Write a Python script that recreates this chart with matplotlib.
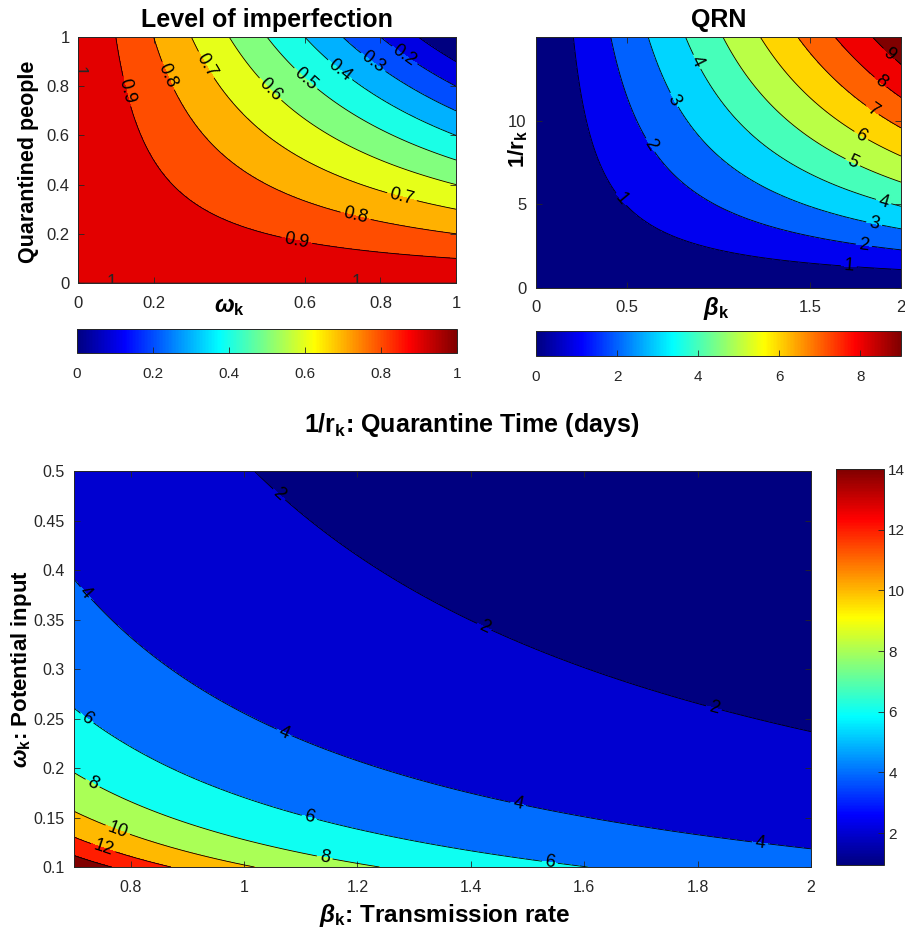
import numpy as np
import matplotlib
matplotlib.use("Agg")
import matplotlib.pyplot as plt
from matplotlib.cm import ScalarMappable
from matplotlib.colors import LinearSegmentedColormap, Normalize

plt.rcParams["font.family"] = ["Liberation Sans", "DejaVu Sans"]
plt.rcParams["mathtext.fontset"] = "custom"
plt.rcParams["mathtext.rm"] = "Liberation Sans"
plt.rcParams["mathtext.it"] = "Liberation Sans:italic"
plt.rcParams["mathtext.bf"] = "Liberation Sans:bold"
plt.rcParams["mathtext.bfit"] = "Liberation Sans:italic:bold"

# --- level of imperfection: 1 - omega * quarantined share
omega_axis = np.linspace(0.0, 1.0, 201)
quarantined_axis = np.linspace(0.0, 1.0, 201)
imperfection_levels = [0.1, 0.2, 0.3, 0.4, 0.5, 0.6, 0.7, 0.8, 0.9]
imperfection_top = 1.0
imperfection_ticks = [0, 0.2, 0.4, 0.6, 0.8, 1]

# --- QRN over transmission rate and quarantine time
beta_axis = np.linspace(0.0, 2.0, 201)
days_axis = np.linspace(0.0, 15.0, 301)
qrn_gain = 0.468
qrn_saturation = 0.0292
qrn_levels = [1, 2, 3, 4, 5, 6, 7, 8, 9]
qrn_top = 9.0
qrn_ticks = [0, 2, 4, 6, 8]

# --- quarantine time over transmission rate and potential input
beta_range = np.linspace(0.7, 2.0, 261)
omega_range = np.linspace(0.1, 0.5, 201)
time_scale = 0.883
beta_offset = 0.135
time_levels = [2, 4, 6, 8, 10, 12, 14]
time_top = 14.0
time_ticks = [2, 4, 6, 8, 10, 12, 14]

# where the contour labels sit (data coordinates)
imperfection_label_pos = [(0.13, 0.78), (0.235, 0.84), (0.337, 0.885), (0.504, 0.78),
                          (0.596, 0.82), (0.689, 0.858), (0.777, 0.89), (0.861, 0.92),
                          (0.856, 0.345), (0.733, 0.264), (0.579, 0.173)]
edge_label_pos = [(0.088, 0.0), (0.736, 0.0), (0.0, 0.862)]
qrn_label_pos = [(0.46, 5.25), (0.616, 8.47), (0.748, 11.19), (0.874, 13.47),
                 (1.924, 13.86), (1.878, 12.18), (1.841, 10.6), (1.777, 9.01),
                 (1.732, 7.43), (1.902, 5.05), (1.851, 3.76), (1.796, 2.47), (1.714, 1.28)]
time_label_pos = [(1.063, 0.477), (0.723, 0.378), (0.725, 0.252), (1.070, 0.235),
                  (0.734, 0.186), (1.115, 0.1495), (0.778, 0.139), (0.752, 0.120),
                  (1.142, 0.109), (1.422, 0.341), (1.828, 0.259), (1.483, 0.163),
                  (1.910, 0.1236), (1.539, 0.104)]

# MATLAB-style jet
JET = LinearSegmentedColormap("mjet", {
    "red": [(0, 0, 0), (3 / 8, 0, 0), (5 / 8, 1, 1), (7 / 8, 1, 1), (1, 0.5, 0.5)],
    "green": [(0, 0, 0), (1 / 8, 0, 0), (3 / 8, 1, 1), (5 / 8, 1, 1), (7 / 8, 0, 0), (1, 0, 0)],
    "blue": [(0, 0.5, 0.5), (1 / 8, 1, 1), (3 / 8, 1, 1), (5 / 8, 0, 0), (1, 0, 0)],
}, N=256)

AX_COLOR = "#262626"
LABEL_SIZE = 13


def filled_contour(ax, x, y, z, levels, top):
    """Fill bands MATLAB-style: each band takes the colour of its lower level."""
    lo, hi = float(z.min()), float(z.max())
    norm = Normalize(lo, top)
    bounds = [lo] + [v for v in levels if lo < v < hi] + [hi + 1e-9]
    colors = [JET(norm(b)) for b in bounds[:-1]]
    ax.contourf(x, y, z, levels=bounds, colors=colors)
    lines = ax.contour(x, y, z, levels=levels, colors="k", linewidths=0.6)
    return lines, norm


def style_axes(ax, labelsize):
    ax.tick_params(direction="in", top=True, right=True, length=4, width=0.6,
                   colors=AX_COLOR, labelsize=labelsize)
    for sp in ax.spines.values():
        sp.set_color(AX_COLOR)
        sp.set_linewidth(0.7)


def add_colorbar(fig, cax, norm, ticks, orientation, fmt=None):
    sm = ScalarMappable(norm=norm, cmap=JET)
    cb = fig.colorbar(sm, cax=cax, orientation=orientation, ticks=ticks)
    cb.outline.set_edgecolor(AX_COLOR)
    cb.outline.set_linewidth(0.7)
    cax.tick_params(direction="in", length=4, width=0.6, colors=AX_COLOR, labelsize=11)
    if fmt is not None:
        cb.set_ticklabels([fmt(t) for t in ticks])
    return cb


W, H = 905, 938
fig = plt.figure(figsize=(W / 100, H / 100), dpi=100)


def px_axes(left, top, right, bottom):
    return fig.add_axes([left / W, 1 - bottom / H, (right - left) / W, (bottom - top) / H])


# ---------------- top left: level of imperfection
ax1 = px_axes(78, 37, 456, 283)
OM, QU = np.meshgrid(omega_axis, quarantined_axis)
imperfection = 1.0 - OM * QU
lines1, norm1 = filled_contour(ax1, OM, QU, imperfection, imperfection_levels, imperfection_top)
ax1.clabel(lines1, fmt="%.1f", fontsize=LABEL_SIZE, manual=imperfection_label_pos,
           inline=True, inline_spacing=3)
edge = ax1.contour(OM, QU, imperfection, levels=[imperfection_top - 1e-6],
                   colors=AX_COLOR, linewidths=0.5)
ax1.clabel(edge, fmt={imperfection_top - 1e-6: "1"}, fontsize=LABEL_SIZE,
           manual=edge_label_pos, inline=False)
ax1.set_xlim(0, 1)
ax1.set_ylim(0, 1)
ax1.set_xticks([0, 0.2, 0.6, 0.8, 1])
ax1.set_xticklabels(["0", "0.2", "0.6", "0.8", "1"])
ax1.set_yticks([0, 0.2, 0.4, 0.6, 0.8, 1])
ax1.set_yticklabels(["0", "0.2", "0.4", "0.6", "0.8", "1"])
style_axes(ax1, 12)
ax1.tick_params(axis="x", pad=9)
ax1.tick_params(axis="y", pad=6)
ax1.set_title("Level of imperfection", fontsize=18, fontweight="bold", pad=7)
ax1.set_xlabel(r"$\boldsymbol{\omega}_\mathbf{k}$", fontsize=17)
ax1.xaxis.set_label_coords(0.402, -0.098)
ax1.xaxis.label.set_va("center")
ax1.set_ylabel("Quarantined people", fontsize=15.5, fontweight="bold")
ax1.yaxis.set_label_coords(-0.130, 0.494)
ax1.yaxis.label.set_va("center")

cax1 = px_axes(77, 329, 457, 353)
add_colorbar(fig, cax1, Normalize(0, imperfection_top), imperfection_ticks, "horizontal",
             fmt=lambda t: f"{t:g}")
cax1.tick_params(pad=10)

# ---------------- top right: QRN
ax2 = px_axes(536, 37, 901, 288)
BE, DA = np.meshgrid(beta_axis, days_axis)
qrn = BE * qrn_gain * DA / (1.0 + qrn_saturation * DA)
lines2, norm2 = filled_contour(ax2, BE, DA, qrn, qrn_levels, qrn_top)
ax2.clabel(lines2, fmt="%d", fontsize=LABEL_SIZE, manual=qrn_label_pos, inline=True,
           inline_spacing=3)
ax2.set_xlim(0, 2)
ax2.set_ylim(0, 15)
ax2.set_xticks([0, 0.5, 1.5, 2])
ax2.set_xticklabels(["0", "0.5", "1.5", "2"])
ax2.set_yticks([0, 5, 10])
style_axes(ax2, 12)
ax2.tick_params(axis="x", pad=9)
ax2.tick_params(axis="y", pad=7)
ax2.set_title("QRN", fontsize=18, fontweight="bold", pad=7)
ax2.set_xlabel(r"$\boldsymbol{\beta}_\mathbf{k}$", fontsize=17)
ax2.xaxis.set_label_coords(0.493, -0.08)
ax2.xaxis.label.set_va("center")
ax2.set_ylabel(r"1/r$_\mathbf{k}$", fontsize=16, fontweight="bold")
ax2.yaxis.set_label_coords(-0.049, 0.554)
ax2.yaxis.label.set_va("center")

cax2 = px_axes(536, 331, 901, 356)
add_colorbar(fig, cax2, norm2, qrn_ticks, "horizontal")
cax2.tick_params(pad=10)

# ---------------- bottom: quarantine time
ax3 = px_axes(74, 471, 811, 867)
BR, OR = np.meshgrid(beta_range, omega_range)
quarantine_time = time_scale / (OR * (BR - beta_offset))
lines3, norm3 = filled_contour(ax3, BR, OR, quarantine_time, time_levels, time_top)
ax3.clabel(lines3, fmt="%d", fontsize=LABEL_SIZE, manual=time_label_pos, inline=True,
           inline_spacing=3)
ax3.set_xlim(0.7, 2)
ax3.set_ylim(0.1, 0.5)
ax3.set_xticks([0.8, 1.0, 1.2, 1.4, 1.6, 1.8, 2.0])
ax3.set_xticklabels(["0.8", "1", "1.2", "1.4", "1.6", "1.8", "2"])
ax3.set_yticks([0.1, 0.15, 0.2, 0.25, 0.3, 0.35, 0.4, 0.45, 0.5])
ax3.set_yticklabels(["0.1", "0.15", "0.2", "0.25", "0.3", "0.35", "0.4", "0.45", "0.5"])
style_axes(ax3, 11.5)
ax3.tick_params(axis="x", pad=9)
ax3.tick_params(axis="y", pad=7)
ax3.set_title(r"1/r$_\mathbf{k}$: Quarantine Time (days)", fontsize=18, fontweight="bold",
              x=0.539, pad=28)
ax3.set_xlabel(r"$\boldsymbol{\beta}_\mathbf{k}$: Transmission rate", fontsize=17.5,
               fontweight="bold")
ax3.xaxis.set_label_coords(0.502, -0.122)
ax3.xaxis.label.set_va("center")
ax3.set_ylabel(r"$\boldsymbol{\omega}_\mathbf{k}$: Potential input", fontsize=16,
               fontweight="bold")
ax3.yaxis.set_label_coords(-0.071, 0.499)
ax3.yaxis.label.set_va("center")

cax3 = px_axes(836, 469, 884, 865)
add_colorbar(fig, cax3, norm3, time_ticks, "vertical")
cax3.tick_params(pad=3)

fig.savefig("out.png", dpi=100)
